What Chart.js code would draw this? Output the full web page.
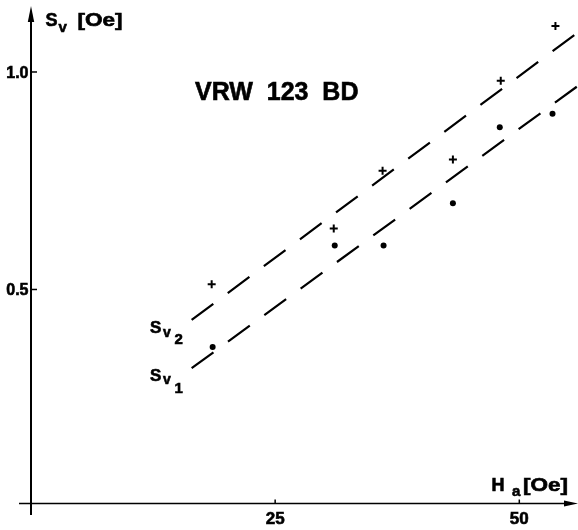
<!DOCTYPE html>
<html lang="de">
<head>
  <meta charset="utf-8">
  <script src="https://cdn.jsdelivr.net/npm/chart.js"></script>
  <style>
    html, body { margin: 0; padding: 0; background: #fff; }
    .graph { width: 578px; height: 530px; position: relative; }
  </style>
</head>
<body>
  <div class="graph">
    <canvas id="chartSv"></canvas>
  </div>

<script>
  var haSv2 = [18.5, 31.0, 36.0, 43.2, 48.1, 53.7];
  var sv2 = [0.512, 0.640, 0.773, 0.799, 0.980, 1.106];
  var haSv1 = [18.6, 31.1, 36.1, 43.2, 48.0, 53.4];
  var sv1 = [0.368, 0.601, 0.601, 0.698, 0.873, 0.904];

  // Ausgleichsgeraden
  var fitX = [16.45, 56.0];
  var fitSv2 = [0.430, 1.091];
  var fitSv1 = [0.319, 0.968];

  var xTicks = [25, 50];
  var yTicks = [0.5, 1.0];
  var xTickLabels = ["25", "50"];
  var yTickLabels = ["0.5", "1.0"];

  function pts(xs, ys) {
    return xs.map(function (x, i) { return { x: x, y: ys[i] }; });
  }

  var FONT = '"Liberation Sans", Arial, Helvetica, sans-serif';

  // Text etwas kräftiger (Druckbild)
  function txt(ctx, s, x, y, size, sx) {
    ctx.save();
    ctx.font = 'bold ' + size + 'px ' + FONT;
    ctx.translate(x, y);
    ctx.scale(sx || 1, 1);
    ctx.lineWidth = 0.6;
    ctx.fillText(s, 0, 0);
    ctx.strokeText(s, 0, 0);
    ctx.restore();
  }

  // Achsen, Pfeile und Beschriftungen selbst zeichnen
  var axesPlugin = {
    id: 'axesPlugin',
    afterDraw: function (chart) {
      var ctx = chart.ctx;
      var xs = chart.scales.x, ys = chart.scales.y;
      var x0 = xs.getPixelForValue(0);
      var yb = chart.chartArea.bottom;
      ctx.save();
      ctx.strokeStyle = '#000';
      ctx.fillStyle = '#000';

      // y-Achse
      ctx.lineWidth = 2;
      ctx.beginPath();
      ctx.moveTo(x0, 515);
      ctx.lineTo(x0, 18);
      ctx.stroke();
      ctx.beginPath();
      ctx.moveTo(x0, 6);
      ctx.lineTo(x0 - 3.2, 22);
      ctx.lineTo(x0 + 3.2, 22);
      ctx.closePath();
      ctx.fill();

      // x-Achse
      ctx.lineWidth = 1.6;
      ctx.beginPath();
      ctx.moveTo(19, yb);
      ctx.lineTo(568, yb);
      ctx.stroke();
      ctx.beginPath();
      ctx.moveTo(578, yb);
      ctx.lineTo(564, yb - 3);
      ctx.lineTo(564, yb + 3);
      ctx.closePath();
      ctx.fill();

      // Ticks
      ctx.lineWidth = 1.5;
      ctx.textBaseline = 'alphabetic';
      yTicks.forEach(function (v, i) {
        var py = ys.getPixelForValue(v);
        ctx.beginPath();
        ctx.moveTo(x0, py);
        ctx.lineTo(x0 + 6, py);
        ctx.stroke();
        ctx.textAlign = 'right';
        txt(ctx, yTickLabels[i], 28.5, py + 6, 16);
      });
      xTicks.forEach(function (v, i) {
        var px = xs.getPixelForValue(v);
        ctx.lineWidth = 1.5;
        ctx.beginPath();
        ctx.moveTo(px, yb);
        ctx.lineTo(px, yb - 4);
        ctx.stroke();
        ctx.textAlign = 'center';
        txt(ctx, xTickLabels[i], px, 523.5, 17);
      });

      // Achsentitel
      ctx.textAlign = 'left';
      txt(ctx, 'S', 45.5, 26, 18);
      txt(ctx, 'v', 58.5, 31.5, 15);
      txt(ctx, '[Oe]', 77.5, 26, 18, 1.25);

      txt(ctx, 'H', 491.5, 490.7, 18);
      txt(ctx, 'a', 512, 496, 15);
      txt(ctx, '[Oe]', 523, 491, 18, 1.25);

      // Probenbezeichnung
      txt(ctx, 'VRW  123  BD', 195, 100, 25);

      // Kurvenbeschriftung
      txt(ctx, 'S', 150, 333, 17);
      txt(ctx, 'S', 150, 381, 17);
      txt(ctx, 'v', 163, 337, 14);
      txt(ctx, 'v', 163, 384, 14);
      txt(ctx, '2', 174.5, 344, 15);
      txt(ctx, '1', 174.5, 392.5, 15);

      ctx.restore();
    }
  };

  var ctxSv = document.getElementById("chartSv").getContext("2d");
  var configSv = {
    type: 'scatter',
    data: {
      datasets: [
        {
          label: 'Sv2 Gerade',
          type: 'line',
          data: pts(fitX, fitSv2),
          borderColor: '#000',
          borderWidth: 2.2,
          borderDash: [27, 18],
          pointRadius: 0,
          fill: false
        },
        {
          label: 'Sv1 Gerade',
          type: 'line',
          data: pts(fitX, fitSv1),
          borderColor: '#000',
          borderWidth: 2.2,
          borderDash: [27, 18],
          pointRadius: 0,
          fill: false
        },
        {
          label: 'Sv2',
          data: pts(haSv2, sv2),
          pointStyle: 'cross',
          pointRadius: 4,
          borderColor: '#000',
          borderWidth: 2,
          showLine: false
        },
        {
          label: 'Sv1',
          data: pts(haSv1, sv1),
          pointStyle: 'circle',
          pointRadius: 3,
          backgroundColor: '#000',
          borderColor: '#000',
          borderWidth: 0,
          showLine: false
        }
      ]
    },
    options: {
      responsive: true,
      maintainAspectRatio: false,
      animation: false,
      layout: { autoPadding: false, padding: { left: 31, right: 0, top: 10, bottom: 26.5 } },
      plugins: {
        legend: { display: false },
        tooltip: { enabled: false }
      },
      scales: {
        x: { type: 'linear', min: 0, max: 56.01, display: false },
        y: { type: 'linear', min: 0.008, max: 1.1425, display: false }
      }
    },
    plugins: [axesPlugin]
  };

  var chartSv = new Chart(ctxSv, configSv);
</script>
</body>
</html>
